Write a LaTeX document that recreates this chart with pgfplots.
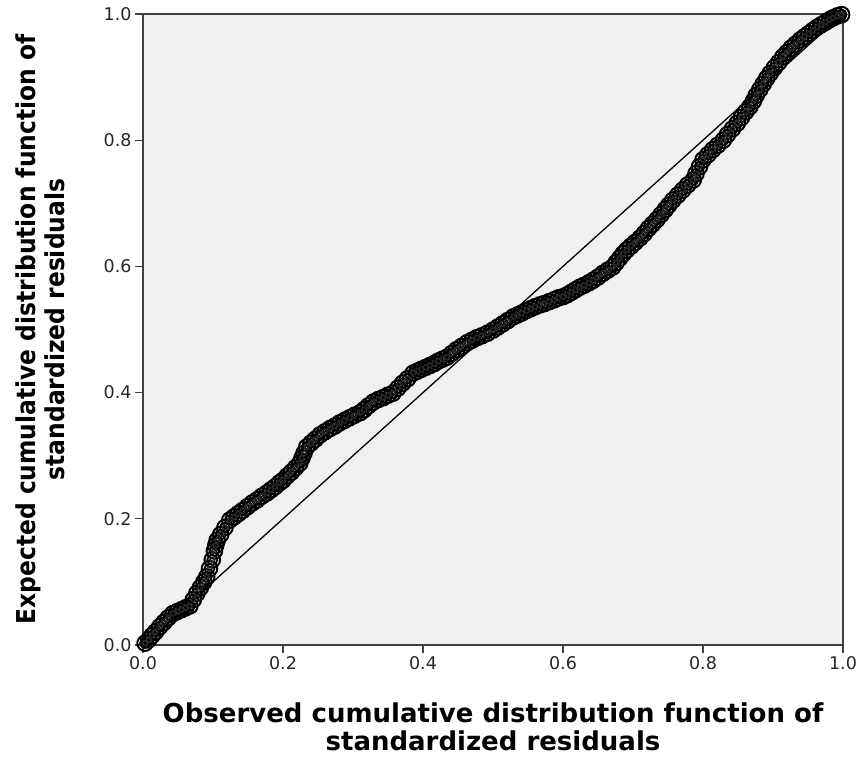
\documentclass[border=0pt]{standalone}
\usepackage{pgfplots}
\usepackage{pgfplotstable}
\pgfplotsset{compat=1.18}
\usepackage{fontspec}
\setmainfont{DejaVu Sans}
\definecolor{bgc}{HTML}{F0F0F0}
\definecolor{framec}{HTML}{404040}
\pgfplotstableread{
x y
0.003 0.003
0.008 0.008
0.013 0.015
0.018 0.021
0.024 0.029
0.030 0.036
0.036 0.043
0.043 0.050
0.049 0.053
0.055 0.056
0.061 0.059
0.067 0.062
0.072 0.072
0.077 0.082
0.082 0.091
0.087 0.100
0.091 0.108
0.095 0.121
0.099 0.135
0.102 0.149
0.104 0.158
0.106 0.166
0.111 0.175
0.117 0.186
0.124 0.198
0.130 0.203
0.136 0.208
0.142 0.213
0.149 0.219
0.156 0.225
0.163 0.230
0.170 0.236
0.177 0.241
0.183 0.246
0.189 0.251
0.195 0.257
0.200 0.261
0.206 0.268
0.212 0.274
0.218 0.281
0.224 0.288
0.227 0.296
0.230 0.304
0.234 0.314
0.240 0.320
0.246 0.326
0.253 0.333
0.260 0.338
0.267 0.343
0.274 0.347
0.281 0.352
0.288 0.356
0.295 0.360
0.302 0.364
0.310 0.368
0.316 0.373
0.322 0.379
0.329 0.385
0.336 0.389
0.343 0.392
0.350 0.396
0.357 0.399
0.364 0.407
0.371 0.415
0.378 0.422
0.386 0.431
0.392 0.434
0.398 0.437
0.404 0.440
0.410 0.443
0.416 0.446
0.422 0.450
0.428 0.453
0.434 0.456
0.441 0.462
0.448 0.468
0.455 0.473
0.463 0.479
0.470 0.483
0.477 0.487
0.484 0.490
0.492 0.494
0.500 0.499
0.507 0.504
0.514 0.509
0.521 0.514
0.529 0.520
0.535 0.523
0.541 0.526
0.548 0.530
0.554 0.533
0.560 0.536
0.567 0.539
0.573 0.541
0.580 0.544
0.587 0.547
0.593 0.550
0.600 0.552
0.606 0.555
0.612 0.559
0.618 0.563
0.624 0.567
0.630 0.570
0.637 0.574
0.643 0.578
0.650 0.583
0.657 0.589
0.664 0.594
0.671 0.599
0.676 0.606
0.681 0.613
0.686 0.620
0.691 0.626
0.697 0.632
0.703 0.638
0.710 0.645
0.716 0.652
0.722 0.660
0.728 0.667
0.734 0.674
0.740 0.682
0.746 0.690
0.751 0.697
0.757 0.705
0.764 0.713
0.771 0.721
0.778 0.729
0.786 0.737
0.790 0.747
0.795 0.758
0.800 0.769
0.807 0.777
0.814 0.785
0.821 0.792
0.829 0.800
0.835 0.809
0.842 0.818
0.849 0.827
0.855 0.836
0.861 0.845
0.867 0.853
0.872 0.862
0.876 0.871
0.881 0.880
0.886 0.889
0.891 0.898
0.896 0.906
0.902 0.915
0.908 0.923
0.914 0.932
0.920 0.939
0.926 0.946
0.932 0.952
0.939 0.959
0.945 0.964
0.951 0.969
0.957 0.974
0.963 0.979
0.969 0.983
0.975 0.987
0.981 0.991
0.986 0.994
0.992 0.997
0.998 0.999
}\ppdata
\begin{document}
\begin{tikzpicture}
\useasboundingbox (-143pt,-112pt) rectangle (716pt,645pt);
\begin{axis}[
  at={(0pt,0pt)}, anchor=south west,
  scale only axis, width=700pt, height=631pt,
  xmin=0, xmax=1, ymin=0, ymax=1,
  xtick={0,0.2,...,1}, ytick={0,0.2,...,1},
  xticklabel style={/pgf/number format/.cd, fixed, fixed zerofill, precision=1},
  yticklabel style={/pgf/number format/.cd, fixed, fixed zerofill, precision=1},
  /pgf/number format/assume math mode=true,
  ticklabel style={font=\fontsize{17.5}{20}\selectfont, text=black!85},
  tick align=outside, major tick length=8pt,
  tick style={framec, line width=1.2pt},
  xtick pos=bottom, ytick pos=left,
  axis line style={framec, line width=2pt},
  axis background/.style={fill=bgc},
  clip=false,
  xlabel={Observed cumulative distribution function of\\standardized residuals},
  ylabel={\scalebox{0.9}[1]{\begin{tabular}{@{}c@{}}Expected cumulative distribution function of\\standardized residuals\end{tabular}}},
  xlabel style={at={(axis description cs:0.5,0)}, anchor=north, yshift=-58pt, inner sep=0pt, align=center, font=\fontsize{26}{28}\selectfont\bfseries},
  ylabel style={at={(axis description cs:0,0.5)}, anchor=south, yshift=70pt, inner sep=0pt, font=\fontsize{26}{29}\selectfont\bfseries},
]
\addplot[black, line width=1.3pt, no markers] coordinates {(0,0) (1,1)};
\addplot[only marks, mark=o, mark size=7.8pt, mark options={line width=2pt, draw=black}] table {\ppdata};
\addplot[only marks, mark=o, mark size=5pt, mark options={line width=1.8pt, draw=black}] table {\ppdata};
\addplot[only marks, mark=o, mark size=2.4pt, mark options={line width=1.5pt, draw=black!85}] table {\ppdata};
\end{axis}
\end{tikzpicture}
\end{document}
